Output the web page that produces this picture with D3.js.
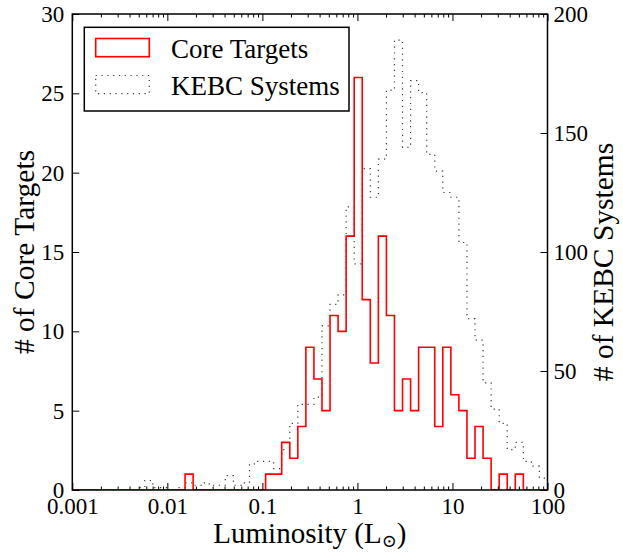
<!DOCTYPE html>
<html>
<head>
<meta charset="utf-8">
<script src="https://cdn.jsdelivr.net/npm/d3@7"></script>
<style>
  html, body { margin: 0; padding: 0; background: #fff; }
  svg { display: block; }
  text { font-family: "Liberation Serif", "Times New Roman", "DejaVu Serif", serif; fill: #000; }
</style>
</head>
<body>
<svg id="chart" width="623" height="552"></svg>
<script>
// Histogram bins: 59 equal-width bins in log10(L) from 0.001 to 100 L_sun
const binLogMin = -3;
const binLogMax = 2;
const binCount = 59;

// Counts per bin, lowest luminosity first
const coreTargets = [
  0, 0, 0, 0, 0, 0, 0, 0, 0, 0,
  0, 0, 0, 0, 1, 0, 0, 0, 0, 0,
  0, 0, 0, 0, 1, 1, 3, 2, 4, 9,
  7, 5, 11, 10, 16, 26, 12, 8, 16, 11,
  5, 7, 5, 9, 9, 4, 9, 6, 5, 2,
  4, 2, 0, 1, 0, 1, 0, 0, 0
];
const kebcSystems = [
  0, 0, 0, 0, 0, 0, 0, 0, 1, 4,
  1, 1, 0, 1, 3, 2, 3, 2, 2, 6,
  2, 3, 11, 12, 12, 9, 17, 28, 36, 36,
  39, 69, 78, 82, 119, 95, 135, 123, 139, 168,
  189, 144, 172, 167, 141, 134, 125, 123, 104, 72,
  63, 45, 34, 28, 17, 20, 12, 10, 5
];

// Axis ticks and labels
const xMajorTicks = [0.001, 0.01, 0.1, 1, 10, 100];
const xTickLabels = ["0.001", "0.01", "0.1", "1", "10", "100"];
const leftTicks = [0, 5, 10, 15, 20, 25, 30];
const rightTicks = [0, 50, 100, 150, 200];

const svg = d3.select("#chart");
const m = { left: 72.3, right: 547.5, top: 14, bottom: 490 };

const x = d3.scaleLog().domain([0.001, 100]).range([m.left, m.right]);
const yL = d3.scaleLinear().domain([0, 30]).range([m.bottom, m.top]);
const yR = d3.scaleLinear().domain([0, 200]).range([m.bottom, m.top]);

const edges = d3.range(binCount + 1).map(i => Math.pow(10, binLogMin + i * (binLogMax - binLogMin) / binCount));

function stepPoints(counts) {
  const pts = [[edges[0], 0]];
  counts.forEach((c, i) => {
    pts.push([edges[i], c]);
    pts.push([edges[i + 1], c]);
  });
  pts.push([edges[binCount], 0]);
  return pts;
}

svg.append("defs").append("clipPath").attr("id", "plotclip")
  .append("rect").attr("x", m.left).attr("y", m.top)
  .attr("width", m.right - m.left).attr("height", m.bottom - m.top);

const plot = svg.append("g").attr("clip-path", "url(#plotclip)");

// KEBC systems (right axis), dotted step outline
plot.append("path")
  .datum(stepPoints(kebcSystems))
  .attr("d", d3.line().x(d => x(d[0])).y(d => yR(d[1])))
  .attr("fill", "none")
  .attr("stroke", "#3a3a3a")
  .attr("stroke-width", 1.2)
  .attr("stroke-dasharray", "1.2,4.6");

// Core targets (left axis), red step outline
plot.append("path")
  .datum(stepPoints(coreTargets))
  .attr("d", d3.line().x(d => x(d[0])).y(d => yL(d[1])))
  .attr("fill", "none")
  .attr("stroke", "#ff0000")
  .attr("stroke-width", 1.6);

// Axes with inward ticks
const xMinor = [];
[0.001, 0.01, 0.1, 1, 10].forEach(d => { for (let k = 2; k <= 9; k++) xMinor.push(d * k); });

const axisBottom = d3.axisBottom(x).tickValues(xMajorTicks).tickSize(-7).tickPadding(8)
  .tickFormat((d, i) => xTickLabels[i]);
const axisBottomMinor = d3.axisBottom(x).tickValues(xMinor).tickSize(-3.5).tickFormat("");
const axisTop = d3.axisTop(x).tickValues(xMajorTicks).tickSize(-7).tickFormat("");
const axisTopMinor = d3.axisTop(x).tickValues(xMinor).tickSize(-3.5).tickFormat("");
const axisLeft = d3.axisLeft(yL).tickValues(leftTicks).tickSize(-7).tickPadding(8);
const axisRight = d3.axisRight(yR).tickValues(rightTicks).tickSize(-7).tickPadding(6);

function styleAxis(g) {
  g.select(".domain").remove();
  g.selectAll(".tick line").attr("stroke", "#000").attr("stroke-width", 1);
  g.selectAll(".tick text").attr("font-size", "23px")
    .style("font-family", '"Liberation Serif", "Times New Roman", serif');
}

svg.append("g").attr("transform", `translate(0,${m.bottom})`).call(axisBottom).call(styleAxis);
svg.append("g").attr("transform", `translate(0,${m.bottom})`).call(axisBottomMinor).call(styleAxis);
svg.append("g").attr("transform", `translate(0,${m.top})`).call(axisTop).call(styleAxis);
svg.append("g").attr("transform", `translate(0,${m.top})`).call(axisTopMinor).call(styleAxis);
svg.append("g").attr("transform", `translate(${m.left},0)`).call(axisLeft).call(styleAxis);
svg.append("g").attr("transform", `translate(${m.right},0)`).call(axisRight).call(styleAxis);

// Plot frame
svg.append("rect")
  .attr("x", m.left).attr("y", m.top)
  .attr("width", m.right - m.left).attr("height", m.bottom - m.top)
  .attr("fill", "none").attr("stroke", "#000").attr("stroke-width", 1.5);

// Axis titles
const xTitle = svg.append("text")
  .attr("x", (m.left + m.right) / 2).attr("y", 543)
  .attr("text-anchor", "middle").attr("font-size", "29px");
xTitle.append("tspan").text("Luminosity (L");
xTitle.append("tspan").attr("font-size", "18px").attr("dy", "4").text("\u2299");
xTitle.append("tspan").attr("dy", "-4").text(")");

svg.append("text")
  .attr("transform", `translate(34,${(m.top + m.bottom) / 2}) rotate(-90)`)
  .attr("text-anchor", "middle").attr("font-size", "29.5px")
  .text("# of Core Targets");

svg.append("text")
  .attr("transform", `translate(613,${(m.top + m.bottom) / 2 + 10}) rotate(-90)`)
  .attr("text-anchor", "middle").attr("font-size", "29.5px")
  .text("# of KEBC Systems");

// Legend
const legend = svg.append("g");
legend.append("rect")
  .attr("x", 84.3).attr("y", 27.3).attr("width", 264.7).attr("height", 83.7)
  .attr("fill", "#fff").attr("stroke", "#000").attr("stroke-width", 1.5);
const legendItems = [
  { label: "Core Targets", stroke: "#ff0000", dash: null, width: 1.6, y: 38.5 },
  { label: "KEBC Systems", stroke: "#3a3a3a", dash: "1.2,4.6", width: 1.2, y: 75.5 }
];
legendItems.forEach(it => {
  legend.append("rect")
    .attr("x", 95.7).attr("y", it.y).attr("width", 53.6).attr("height", 18.2)
    .attr("fill", "none").attr("stroke", it.stroke).attr("stroke-width", it.width)
    .attr("stroke-dasharray", it.dash);
  legend.append("text")
    .attr("x", 171).attr("y", it.y + 19)
    .attr("font-size", "27px").text(it.label);
});
</script>
</body>
</html>
